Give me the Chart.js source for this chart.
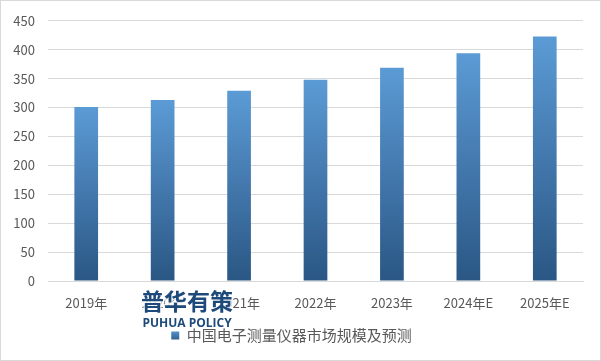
<!DOCTYPE html>
<html><head><meta charset="utf-8">
<script src="https://cdn.jsdelivr.net/npm/chart.js@4"></script>
<style>html,body{margin:0;padding:0;background:#fff;}canvas{display:block;}</style>
</head><body>
<canvas id="c" width="601" height="361"></canvas>
<script>
const categories = ['2019年','2020年','2021年','2022年','2023年','2024年E','2025年E'];
const marketSize = [301, 313, 329, 348, 369, 394, 423];
const seriesName = '中国电子测量仪器市场规模及预测';
const yTicks = [0,50,100,150,200,250,300,350,400,450];

const FONT = '"Noto Sans CJK SC", "Noto Sans", sans-serif';

function barGradient(ctx){
  const chart = ctx.chart;
  const y = chart.scales && chart.scales.y;
  if(!chart.chartArea || !y || ctx.type !== 'data') return '#4a86c0';
  const v = ctx.raw;
  const top = y.getPixelForValue(v), bottom = y.getPixelForValue(0);
  if(!isFinite(top) || !isFinite(bottom) || top===bottom) return '#4a86c0';
  const g = chart.ctx.createLinearGradient(0, top, 0, bottom);
  g.addColorStop(0, '#5b9bd5');
  g.addColorStop(0.5, '#4378ad');
  g.addColorStop(1, '#2a5784');
  return g;
}
function legendGradient(chart){
  const g = chart.ctx.createLinearGradient(0, 330, 0, 341);
  g.addColorStop(0, '#5b9bd5');
  g.addColorStop(1, '#2a5784');
  return g;
}

const extras = {
  id:'extras',
  afterDraw(chart){
    const c = chart.ctx;
    c.save();
    c.strokeStyle = '#d9d9d9';
    c.lineWidth = 1;
    c.strokeRect(0.5,0.5,600,360);
    // watermark
    c.textAlign = 'center';
    c.textBaseline = 'middle';
    c.font = 'bold 23px ' + FONT;
    c.lineWidth = 3; c.strokeStyle = 'rgba(255,255,255,0.8)';
    c.strokeText('普华有策', 187, 301);
    c.fillStyle = '#1d4a7a';
    c.fillText('普华有策', 187, 301);
    c.font = 'bold 12px "Open Sans", "Noto Sans", sans-serif';
    c.strokeText('PUHUA POLICY', 187, 324);
    c.fillText('PUHUA POLICY', 187, 324);
    c.restore();
  }
};

new Chart(document.getElementById('c'), {
  type:'bar',
  data:{
    labels: categories,
    datasets:[{
      label: seriesName,
      data: marketSize,
      backgroundColor: barGradient,
      borderWidth: 0,
      barPercentage: 0.62,
      categoryPercentage: 0.5
    }]
  },
  options:{
    responsive:false,
    animation:false,
    devicePixelRatio:1,
    layout:{padding:{left:0,right:18,top:9,bottom:8}},
    scales:{
      x:{
        grid:{display:false, drawTicks:false},
        border:{display:true,color:'#d9d9d9'},
        ticks:{color:'#595959', font:{family:FONT,size:13}, padding:14, maxRotation:0},
        afterFit(s){ s.height = 39; }
      },
      y:{
        min:0,max:450,
        afterBuildTicks(s){ s.ticks = yTicks.map(v=>({value:v})); },
        grid:{color:'#d9d9d9', drawTicks:false},
        border:{display:false},
        ticks:{color:'#595959', font:{family:FONT,size:13}, padding:13},
        afterFit(s){ s.width = 48; }
      }
    },
    plugins:{
      legend:{
        position:'bottom',
        labels:{
          color:'#595959',
          font:{family:FONT,size:15},
          boxWidth:8, boxHeight:8,
          padding:8,
          generateLabels(chart){
            return [{text:seriesName, fillStyle:legendGradient(chart), strokeStyle:'rgba(0,0,0,0)', lineWidth:0, datasetIndex:0, fontColor:'#595959'}];
          }
        }
      },
      tooltip:{enabled:false}
    }
  },
  plugins:[extras]
});
</script>
</body></html>
